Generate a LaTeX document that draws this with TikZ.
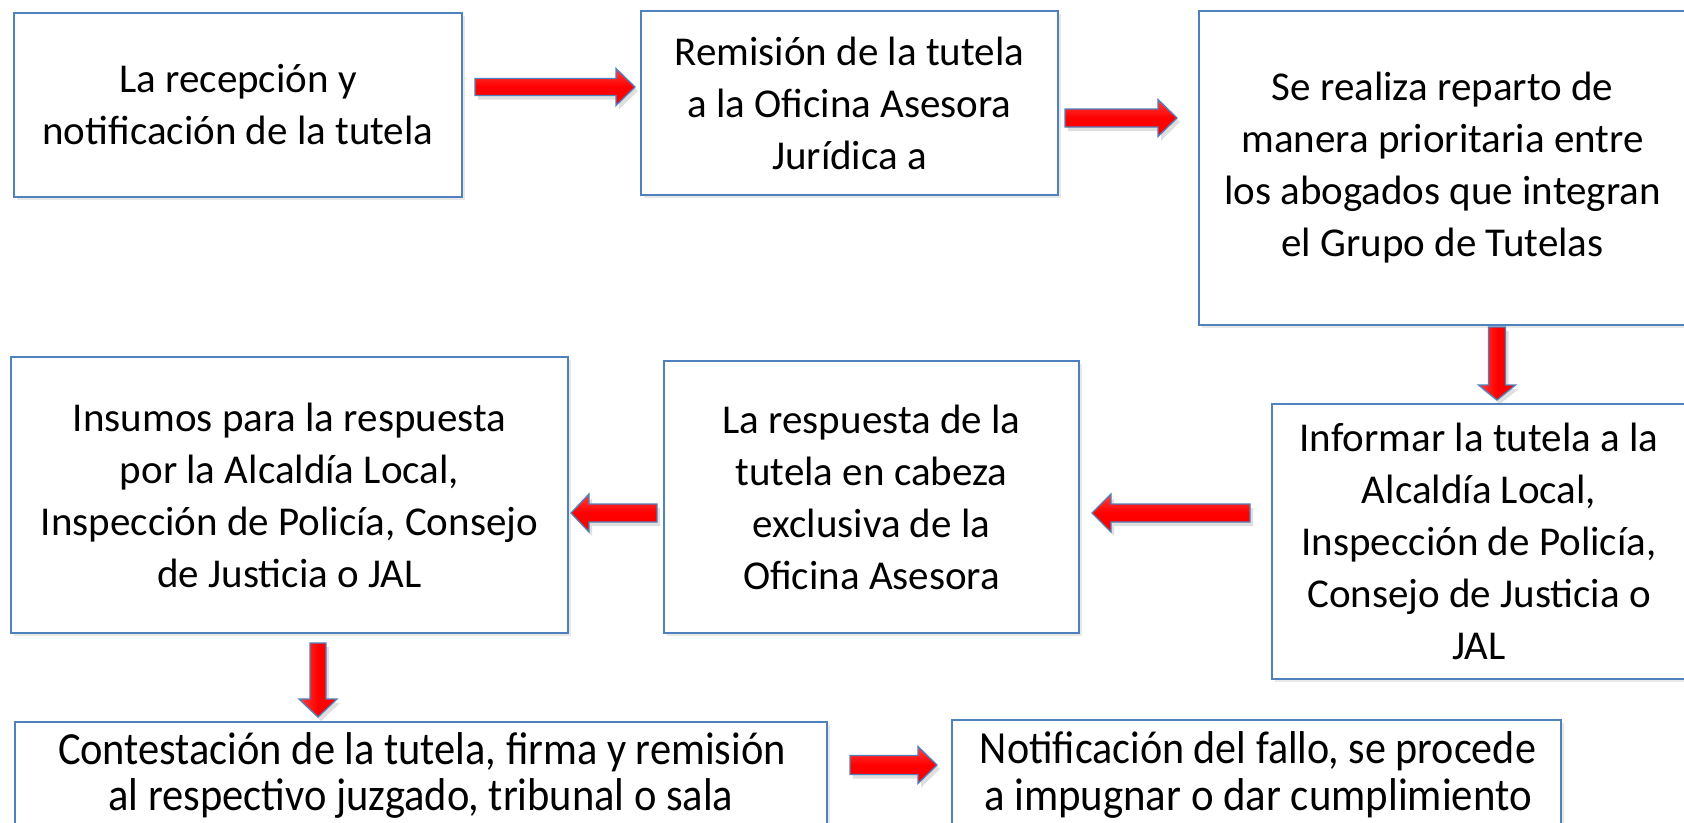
\documentclass[tikz,border=0pt]{standalone}
\usepackage{fontspec}
\setmainfont{Carlito}
\usetikzlibrary{shadows}
\definecolor{boxblue}{HTML}{4F81BD}
\definecolor{arrred}{HTML}{FF0000}
\tikzset{
  box/.style={draw=boxblue, line width=1.6pt, fill=white, align=center, inner sep=0pt,
    font=\fontsize{41pt}{52pt}\selectfont,
    drop shadow={opacity=0.18, shadow xshift=3pt, shadow yshift=-3pt}},
  blockarrow/.style={draw=boxblue, line width=1.3pt, top color=arrred!75!white, bottom color=arrred,
    middle color=arrred, line join=miter,
    drop shadow={opacity=0.25, shadow xshift=3pt, shadow yshift=-4pt}},
  bottomtext/.style={anchor=base, inner sep=0pt, font=\fontsize{46pt}{52pt}\selectfont},
}
% right arrow: x1, x2 (tip), y, body half, head half, head length
\newcommand\arrRight[6]{%
  \draw[blockarrow] (#1,#3-#4) -- (#2-#6,#3-#4) -- (#2-#6,#3-#5) -- (#2,#3)
    -- (#2-#6,#3+#5) -- (#2-#6,#3+#4) -- (#1,#3+#4) -- cycle;}
% left arrow: x1 (tail), x2 (tip), y, body half, head half, head length
\newcommand\arrLeft[6]{%
  \draw[blockarrow] (#1,#3-#4) -- (#2+#6,#3-#4) -- (#2+#6,#3-#5) -- (#2,#3)
    -- (#2+#6,#3+#5) -- (#2+#6,#3+#4) -- (#1,#3+#4) -- cycle;}
% down arrow: x, y1, y2 (tip), body half, head half, head length
\newcommand\arrDown[6]{%
  \draw[blockarrow, shading angle=90] (#1-#4,#2) -- (#1-#4,#3-#6) -- (#1-#5,#3-#6) -- (#1,#3)
    -- (#1+#5,#3-#6) -- (#1+#4,#3-#6) -- (#1+#4,#2) -- cycle;}
\begin{document}
\begin{tikzpicture}[x=1pt,y=-1pt]
\useasboundingbox (0,0) rectangle (1684,822);
\clip (0,0) rectangle (1684,822);
\fill[white] (0,0) rectangle (1684,822);

\node[box, minimum width=448pt, minimum height=184pt] (b1) at (238,105)
  {La recepción y\\notificación de la tutela};
\node[box, minimum width=417pt, minimum height=184pt] (b2) at (849.5,103)
  {Remisión de la tutela\\a la Oficina Asesora\\Jurídica a};
\node[box, minimum width=487pt, minimum height=314pt] (b3) at (1442.5,168)
  {Se realiza reparto de\\manera prioritaria entre\\los abogados que integran\\el Grupo de Tutelas};
\node[box, minimum width=414pt, minimum height=275pt] (b4) at (1479,541.5)
  {Informar la tutela a la\\Alcaldía Local,\\Inspección de Policía,\\Consejo de Justicia o\\JAL};
\node[box, minimum width=415pt, minimum height=272pt] (b5) at (871.5,497)
  {La respuesta de la\\tutela en cabeza\\exclusiva de la\\Oficina Asesora};
\node[box, minimum width=557pt, minimum height=276pt] (b6) at (289.5,495)
  {Insumos para la respuesta\\por la Alcaldía Local,\\Inspección de Policía, Consejo\\de Justicia o JAL};
\node[box, minimum width=812pt, minimum height=178pt] (b7) at (421,811) {};
\node[box, minimum width=609pt, minimum height=180pt] (b8) at (1256.5,810) {};

\node[bottomtext] (t7a) at (422,764) {\resizebox{728pt}{\height}{Contestación de la tutela, firma y remisión}};
\node[bottomtext] (t7b) at (421,810) {\resizebox{625pt}{\height}{al respectivo juzgado, tribunal o sala}};
\node[bottomtext] (t8a) at (1258,763) {\resizebox{556pt}{\height}{Notificación del fallo, se procede}};
\node[bottomtext] (t8b) at (1258,810) {\resizebox{548pt}{\height}{a impugnar o dar cumplimiento}};

\arrRight{475}{635}{87}{8.5}{18.5}{19}
\arrRight{1065}{1177}{118}{9}{18.5}{19}
\arrDown{1497}{327}{400}{8.5}{18.5}{15}
\arrLeft{1250}{1092}{513}{9}{19}{19}
\arrLeft{657}{571}{513}{9}{19}{18}
\arrDown{318}{643}{717}{8}{19}{18}
\arrRight{850}{937}{765}{9.5}{18.5}{19}
\end{tikzpicture}
\end{document}
